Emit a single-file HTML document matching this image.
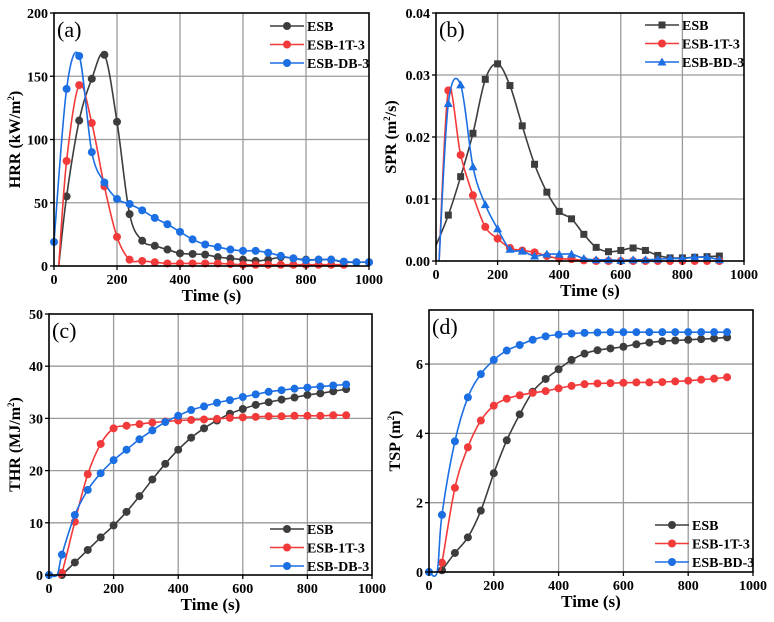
<!DOCTYPE html>
<html><head><meta charset="utf-8">
<style>
html,body{margin:0;padding:0;background:#fff;}
svg{display:block;font-family:"Liberation Serif",serif;}
</style></head>
<body>
<svg id="fig" width="774" height="622" viewBox="0 0 774 622" xmlns="http://www.w3.org/2000/svg"></svg>
<script>
// ---- data ----
const hrrEsbT=[15,40,80,120,160,200,240,280,320,360,400,440,480,520,560,600,640,680,720,760,800,840,880,920,960,1000];
const hrrEsbV=[0,55,115,148,167,114,41,20,16,13,10,9.5,9,7,6,5,4,5,7,6,5,5,5,3,3,3];
const hrr1tT=[15,40,80,120,160,200,240,280,320,360,400,440,480,520,560,600,640,680,720,760,800,840,880,920];
const hrr1tV=[0,83,143,113,63,23,5,4,3,2,2,2,2,2,1.5,1,1,1,1,1,1,1,1,1];
const hrrDbT=[0,40,80,120,160,200,240,280,320,360,400,440,480,520,560,600,640,680,720,760,800,840,880,920,960,1000];
const hrrDbV=[19,140,166,90,66,53,49,44,38,33,27,21,17,15,13,12,12,10.5,8,6,4.5,5,5,3.5,3,3];

const sprEsbT=[0,40,80,120,160,200,240,280,320,360,400,440,480,520,560,600,640,680,720,760,800,840,880,920];
const sprEsbV=[0.0025,0.0074,0.0136,0.0206,0.0293,0.0318,0.0283,0.0218,0.0156,0.0111,0.0080,0.0068,0.0043,0.0022,0.0015,0.0017,0.0021,0.0017,0.0009,0.0005,0.0005,0.0006,0.0007,0.0008];
const spr1tT=[10,40,80,120,160,200,240,280,320,360,400,440,480,520,560,600,640,680,720,760,800,840,880,920];
const spr1tV=[0,0.0275,0.0171,0.0106,0.0055,0.0036,0.0021,0.0017,0.0014,0.0008,0.0004,0.0003,0.0001,0,0,0,0,0,0,0,0,0,0,0];
const sprBdT=[10,40,80,120,160,200,240,280,320,360,400,440,480,520,560,600,640,680,720,760,800,840,880,920];
const sprBdV=[0,0.0254,0.0284,0.0152,0.0091,0.0052,0.0019,0.0016,0.0008,0.0011,0.0011,0.0011,0.0004,0.0002,0.0002,0.0001,0.0002,0.0002,0.0003,0.0004,0.0004,0.0006,0.0006,0.0002];

const thrEsbT=[40,80,120,160,200,240,280,320,360,400,440,480,520,560,600,640,680,720,760,800,840,880,920];
const thrEsbV=[0,2.4,4.8,7.2,9.5,12.1,15.1,18.3,21.3,24.0,26.3,28.1,29.6,30.9,31.8,32.6,33.1,33.6,34.0,34.5,34.8,35.2,35.6];
const thr1tT=[30,40,80,120,160,200,240,280,320,360,400,440,480,520,560,600,640,680,720,760,800,840,880,920];
const thr1tV=[0,0.4,10.2,19.3,25.1,28.1,28.6,28.9,29.2,29.4,29.6,29.7,29.8,29.9,30.1,30.2,30.3,30.4,30.4,30.5,30.5,30.5,30.6,30.6];
const thrDbT=[0,25,40,80,120,160,200,240,280,320,360,400,440,480,520,560,600,640,680,720,760,800,840,880,920];
const thrDbV=[0,0,3.9,11.5,16.3,19.5,22.0,24.0,26.0,27.7,29.3,30.5,31.6,32.3,33.0,33.5,34.1,34.6,35.1,35.4,35.7,35.9,36.1,36.3,36.5];

const tspEsbT=[40,80,120,160,200,240,280,320,360,400,440,480,520,560,600,640,680,720,760,800,840,880,920];
const tspEsbV=[0.05,0.55,1.0,1.77,2.85,3.8,4.55,5.2,5.57,5.85,6.12,6.3,6.4,6.45,6.5,6.57,6.62,6.66,6.68,6.7,6.72,6.74,6.77];
const tsp1tT=[30,40,80,120,160,200,240,280,320,360,400,440,480,520,560,600,640,680,720,760,800,840,880,920];
const tsp1tV=[0,0.27,2.43,3.6,4.37,4.8,5.0,5.1,5.17,5.22,5.3,5.37,5.42,5.44,5.45,5.46,5.47,5.47,5.48,5.5,5.52,5.55,5.58,5.62];
const tspBdT=[0,25,40,80,120,160,200,240,280,320,360,400,440,480,520,560,600,640,680,720,760,800,840,880,920];
const tspBdV=[0,0,1.65,3.77,5.04,5.71,6.12,6.39,6.55,6.7,6.8,6.85,6.88,6.9,6.91,6.92,6.92,6.92,6.92,6.92,6.92,6.92,6.92,6.92,6.92];

const xTicks=[0,200,400,600,800,1000];
const hrrTicks=[0,50,100,150,200];
const sprTicks=[0,0.01,0.02,0.03,0.04];
const sprTickLabels=["0.00","0.01","0.02","0.03","0.04"];
const thrTicks=[0,10,20,30,40,50];
const tspTicks=[0,2,4,6];
const seriesNames=[["ESB","ESB-1T-3","ESB-DB-3"],["ESB","ESB-1T-3","ESB-BD-3"],["ESB","ESB-1T-3","ESB-DB-3"],["ESB","ESB-1T-3","ESB-BD-3"]];

const C=["#3d3d3d","#f23a3a","#1c6fe3"];
const NS="http://www.w3.org/2000/svg";
const svg=document.getElementById('fig');
function mk(tag,attrs,parent){const e=document.createElementNS(NS,tag);for(const k in attrs)e.setAttribute(k,attrs[k]);(parent||svg).appendChild(e);return e;}

function spline(pts){
  let d=`M${pts[0][0]},${pts[0][1]}`;
  for(let i=0;i<pts.length-1;i++){
    const p0=pts[i-1]||pts[i],p1=pts[i],p2=pts[i+1],p3=pts[i+2]||p2;
    const c1=[p1[0]+(p2[0]-p0[0])/6,p1[1]+(p2[1]-p0[1])/6];
    const c2=[p2[0]-(p3[0]-p1[0])/6,p2[1]-(p3[1]-p1[1])/6];
    d+=` C${c1[0]},${c1[1]} ${c2[0]},${c2[1]} ${p2[0]},${p2[1]}`;
  }
  return d;
}
function marker(g,shape,x,y,col){
  let m;
  if(shape==='sq') m=mk('rect',{x:x-3.5,y:y-3.5,width:7,height:7,fill:col},g);
  else if(shape==='tri') m=mk('polygon',{points:`${x},${y-4.5} ${x-4.5},${y+3.5} ${x+4.5},${y+3.5}`,fill:col},g);
  else m=mk('circle',{cx:x,cy:y,r:4,fill:col},g);
  
  
}

function panel(p){
  const g=mk('g',{});
  
  
  const X=v=>p.L+(v-0)/(1000)*(p.R-p.L);
  const Y=v=>p.B-(v-p.ymin)/(p.ymax-p.ymin)*(p.B-p.T);
  // grid
  xTicks.slice(1,-1).forEach(t=>{const l=mk('line',{x1:X(t),x2:X(t),y1:p.T,y2:p.B,stroke:'#9a9a9a','stroke-width':1.3},g);});
  p.yt.forEach(t=>{if(t>p.ymin&&t<p.ymax){const l=mk('line',{x1:p.L,x2:p.R,y1:Y(t),y2:Y(t),stroke:'#9a9a9a','stroke-width':1.3},g);}});
  // series
  p.series.forEach((s,i)=>{
    const sg=mk('g',{},g);
    
    
    const pts=s.t.map((t,j)=>[X(t),Y(s.v[j])]);
    mk('path',{d:spline(pts),fill:'none',stroke:C[i],'stroke-width':1.6},sg);
    pts.forEach((q,j)=>{ if(s.skip&&s.skip.includes(j))return; marker(sg,s.m,q[0],q[1],C[i]);});
  });
  // frame
  const f=mk('rect',{x:p.L,y:p.T,width:p.R-p.L,height:p.B-p.T,fill:'none',stroke:'#000','stroke-width':1.6},g);
  
  // ticks
  xTicks.forEach(t=>{
    mk('line',{x1:X(t),x2:X(t),y1:p.B,y2:p.B+4,stroke:'#000','stroke-width':1.3},g);
    const tx=mk('text',{x:X(t),y:p.B+18,'text-anchor':'middle','font-size':14,'font-weight':'bold'},g);
    tx.textContent=t;
  });
  p.yt.forEach((t,i)=>{
    mk('line',{x1:p.L-4,x2:p.L,y1:Y(t),y2:Y(t),stroke:'#000','stroke-width':1.3},g);
    const tx=mk('text',{x:p.L-6,y:Y(t)+5,'text-anchor':'end','font-size':14,'font-weight':'bold'},g);
    tx.textContent=p.yl?p.yl[i]:t;
  });
  const xt=mk('text',{x:(p.L+p.R)/2,y:p.B+35,'text-anchor':'middle','font-size':17,'font-weight':'bold'},g);
  xt.textContent='Time (s)';
  const yt=mk('text',{x:0,y:0,'text-anchor':'middle','font-size':16,'font-weight':'bold',transform:`translate(${p.ytx},${(p.T+p.B)/2}) rotate(-90)`},g);
  yt.innerHTML=p.ytitle;
  const lab=mk('text',{x:p.L+3,y:p.T+24,'font-size':22},g);
  lab.textContent=p.label;
  // legend
  const lg=mk('g',{},g);
  seriesNames[p.idx].forEach((n,i)=>{
    const y=p.legY+i*18.5;
    const e=mk('g',{},lg);
    mk('line',{x1:p.legX,x2:p.legX+34,y1:y,y2:y,stroke:C[i],'stroke-width':1.6},e);
    marker(e,p.series[i].m,p.legX+17,y,C[i]);
    const t=mk('text',{x:p.legX+37,y:y+5,'font-size':14,'font-weight':'bold'},e);t.textContent=n;
  });
}

panel({idx:0,name:'hrr-chart',L:54,R:369,T:13,B:266,ymin:0,ymax:200,yt:hrrTicks,ytx:20,label:'(a)',
  ytitle:'HRR (kW/m<tspan font-size="9" dy="-6">2</tspan><tspan dy="6">)</tspan>',legX:270,legY:26,
  series:[{t:hrrEsbT,v:hrrEsbV,m:'c',skip:[0]},{t:hrr1tT,v:hrr1tV,m:'c',skip:[0]},{t:hrrDbT,v:hrrDbV,m:'c'}]});
panel({idx:1,name:'spr-chart',L:436,R:744,T:13,B:261,ymin:0,ymax:0.04,yt:sprTicks,yl:sprTickLabels,ytx:396,label:'(b)',
  ytitle:'SPR (m<tspan font-size="9" dy="-6">2</tspan><tspan dy="6">/s)</tspan>',legX:645,legY:25,
  series:[{t:sprEsbT,v:sprEsbV,m:'sq',skip:[0]},{t:spr1tT,v:spr1tV,m:'c',skip:[0]},{t:sprBdT,v:sprBdV,m:'tri',skip:[0]}]});
panel({idx:2,name:'thr-chart',L:49,R:372,T:314,B:575,ymin:0,ymax:50,yt:thrTicks,ytx:20,label:'(c)',
  ytitle:'THR (MJ/m<tspan font-size="9" dy="-6">2</tspan><tspan dy="6">)</tspan>',legX:270,legY:529,
  series:[{t:thrEsbT,v:thrEsbV,m:'c'},{t:thr1tT,v:thr1tV,m:'c',skip:[0]},{t:thrDbT,v:thrDbV,m:'c',skip:[1]}]});
panel({idx:3,name:'tsp-chart',L:429,R:753,T:310,B:572,ymin:0,ymax:7.56,yt:tspTicks,ytx:400,label:'(d)',
  ytitle:'TSP (m<tspan font-size="9" dy="-6">2</tspan><tspan dy="6">)</tspan>',legX:655,legY:525,
  series:[{t:tspEsbT,v:tspEsbV,m:'c'},{t:tsp1tT,v:tsp1tV,m:'c',skip:[0]},{t:tspBdT,v:tspBdV,m:'c',skip:[1]}]});
</script>
</body></html>
